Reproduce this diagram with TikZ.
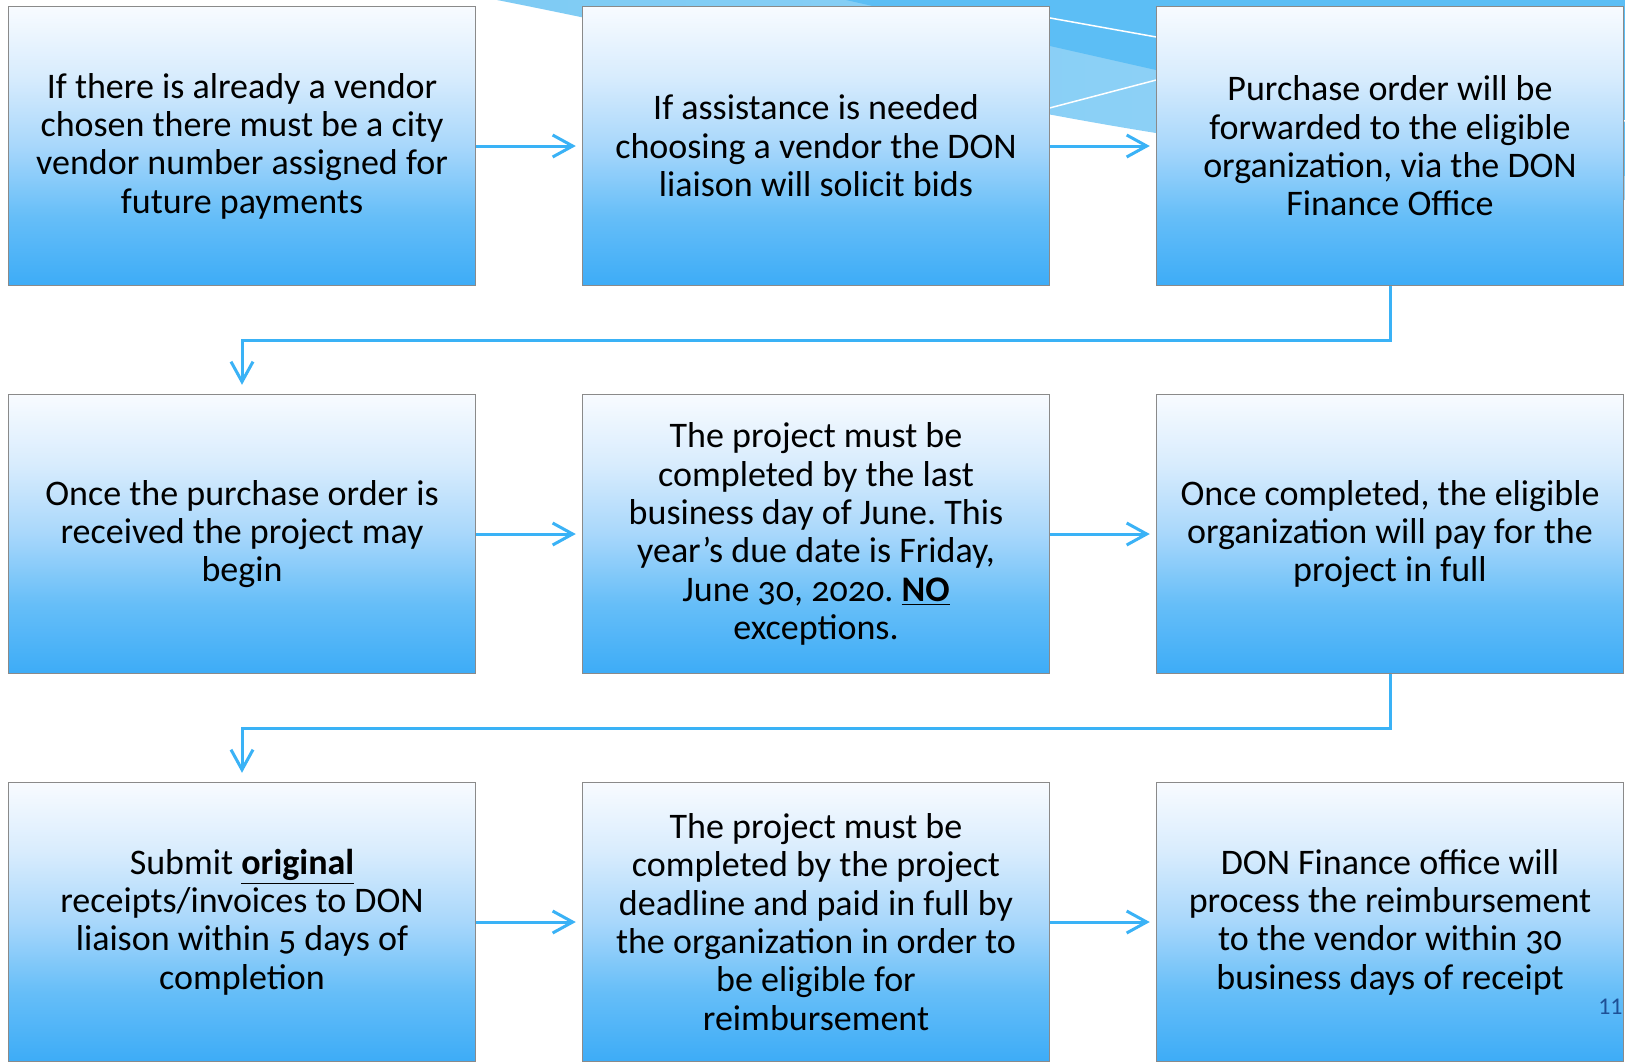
\documentclass[tikz,border=0pt]{standalone}
\usepackage{fontspec}
\setmainfont{Carlito}[Numbers=OldStyle]
\usetikzlibrary{arrows.meta,calc}
\frenchspacing
\definecolor{arrblue}{RGB}{58,178,246}
\definecolor{bordergray}{RGB}{138,138,138}
\definecolor{swlightA}{HTML}{7ECBF4}
\definecolor{swlightB}{HTML}{96D4F8}
\definecolor{swdark}{HTML}{5CBEF5}
\definecolor{pgblue}{RGB}{30,80,150}
\definecolor{shA}{HTML}{3DACF7}
\definecolor{shB}{HTML}{66BEF8}
\definecolor{shC}{HTML}{A8D7FB}
\definecolor{shD}{HTML}{D8ECFD}
\definecolor{shE}{HTML}{F8FBFF}
\pgfdeclareverticalshading{boxshade}{100bp}{color(0bp)=(shA); color(25bp)=(shA); color(37.5bp)=(shB); color(50bp)=(shC); color(62.5bp)=(shD); color(75bp)=(shE); color(100bp)=(shE)}
\begin{document}
\begin{tikzpicture}[x=0.5pt,y=-0.5pt,
  flowbox/.style={draw=bordergray, line width=0.75pt, shading=boxshade,
    minimum width=233.5pt, minimum height=139.5pt, inner sep=0pt,
    align=center, text=black, font=\fontsize{18}{19.2}\selectfont},
  arr/.style={draw=arrblue, line width=1.5pt,
    -{Straight Barb[length=10pt,width=11pt]}},
  streakline/.style={draw=white, line width=0.75pt}]
\useasboundingbox (0,0) rectangle (1625,1062);
\fill[white] (0,0) rectangle (1625,1062);
% background streaks
\shade[left color=swlightA, right color=swlightB]
  (497,0) .. controls (700,40) and (950,100) .. (1156,133) -- (1625,200) -- (1625,0) -- cycle;
\fill[swdark] (846,0) -- (1050,46) -- (1156,70) -- (1625,176) -- (1625,0) -- cycle;
\draw[streakline] (1000,9) -- (1625,121);
\draw[streakline] (1000,121) -- (1160,79);
% boxes
\node[flowbox] (b1) at (242,146) {If there is already a vendor\\chosen there must be a city\\vendor number assigned for\\future payments};
\node[flowbox] (b2) at (816,146) {If assistance is needed\\choosing a vendor the DON\\liaison will solicit bids};
\node[flowbox] (b3) at (1390,146) {Purchase order will be\\forwarded to the eligible\\organization, via the DON\\Finance Office};
\node[flowbox] (b4) at (242,534) {Once the purchase order is\\received the project may\\begin};
\node[flowbox] (b5) at (816,534) {The project must be\\completed by the last\\business day of June. This\\year’s due date is Friday,\\June 30, 2020. \underline{\textbf{NO}}\\exceptions.};
\node[flowbox] (b6) at (1390,534) {Once completed, the eligible\\organization will pay for the\\project in full};
\node[flowbox] (b7) at (242,922) {Submit \underline{\textbf{original}}\\receipts/invoices to DON\\liaison within 5 days of\\completion};
\node[flowbox] (b8) at (816,922) {The project must be\\completed by the project\\deadline and paid in full by\\the organization in order to\\be eligible for\\reimbursement};
\node[flowbox] (b9) at (1390,922) {DON Finance office will\\process the reimbursement\\to the vendor within 30\\business days of receipt};
% arrows
\draw[arr] (b1.east) -- ([xshift=-3pt]b2.west);
\draw[arr] (b2.east) -- ([xshift=-3pt]b3.west);
\draw[arr] (b4.east) -- ([xshift=-3pt]b5.west);
\draw[arr] (b5.east) -- ([xshift=-3pt]b6.west);
\draw[arr] (b7.east) -- ([xshift=-3pt]b8.west);
\draw[arr] (b8.east) -- ([xshift=-3pt]b9.west);
\coordinate (m1) at ($(b1.south)!0.5!(b4.north)$);
\coordinate (m2) at ($(b4.south)!0.5!(b7.north)$);
\draw[arr] (b3.south) -- (b3.south |- m1) -- (m1) -- ([yshift=4.5pt]b4.north);
\draw[arr] (b6.south) -- (b6.south |- m2) -- (m2) -- ([yshift=4.5pt]b7.north);
% page number
\node[anchor=east, inner sep=0pt, text=pgblue, font=\fontsize{12}{13}\selectfont\addfontfeatures{Numbers=Lining}] (pg) at (1623,1007) {11};
\end{tikzpicture}
\end{document}
